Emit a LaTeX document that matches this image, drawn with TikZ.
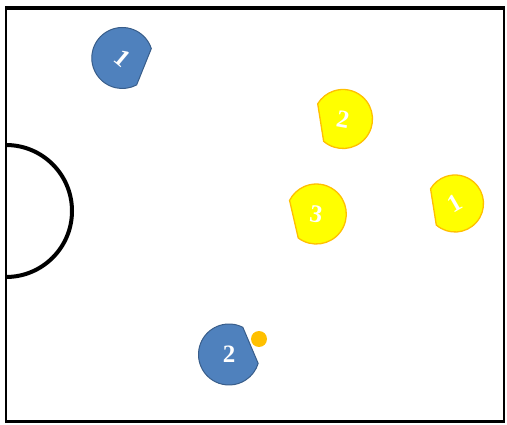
\documentclass[tikz,border=0pt]{standalone}
\usepackage{fontspec}
\setmainfont{Liberation Serif}
\definecolor{robotblue}{HTML}{4F81BD}
\definecolor{robotblueline}{HTML}{385D8A}
\definecolor{robotyellow}{HTML}{FFFF00}
\definecolor{robotyellowline}{HTML}{FFC000}
\definecolor{ballcolor}{HTML}{FFC000}
\tikzset{
  blueteam/.style={fill=robotblue, draw=robotblueline, line width=1pt},
  yellowteam/.style={fill=robotyellow, draw=robotyellowline, line width=1.3pt},
  robotlabel/.style={text=white, font=\fontsize{25}{25}\selectfont\bfseries, inner sep=0pt},
  fieldline/.style={draw=black},
}
\newcommand\drawrobot[8]{%
  \path[#5] (#2,#3) ++(#4+40:#8) arc[start angle=#4+40, end angle=#4+320, radius=#8] -- cycle;
  \node[robotlabel, rotate=#7] (#1) at (#2,#3) {#6};
}
\begin{document}
\begin{tikzpicture}[x=1pt,y=1pt]
  \useasboundingbox (0,0) rectangle (507,424);
  \fill[white] (0,0) rectangle (507,424);
  % field border
  \coordinate (tl) at (6,416);
  \coordinate (tr) at (504,416);
  \coordinate (bl) at (6,2.5);
  \coordinate (br) at (504,2.5);
  \draw[fieldline, line width=4.5pt] ([xshift=-1pt]tl) -- ([xshift=1pt]tr);
  \draw[fieldline, line width=3.5pt] ([xshift=-1pt]bl) -- ([xshift=1pt]br);
  \draw[fieldline, line width=2pt] (tl) -- (bl);
  \draw[fieldline, line width=2pt] (tr) -- (br);
  % goal area semicircle
  \coordinate (goal) at (6,213);
  \draw[fieldline, line width=4pt] (6,279) arc[start angle=90, end angle=-90, radius=66];
  % robots
  \drawrobot{b1}{122.3}{366}{-22}{blueteam}{1}{-40}{30.5}
  \drawrobot{b2}{229}{69.5}{23}{blueteam}{2}{0}{30.5}
  \drawrobot{y2}{343}{305}{189}{yellowteam}{2}{-10}{29.5}
  \drawrobot{y3}{316.3}{210}{193}{yellowteam}{3}{-8}{30}
  \drawrobot{y1}{455}{220.5}{189}{yellowteam}{1}{30}{28.5}
  % ball
  \node[circle, fill=ballcolor, minimum size=16pt, inner sep=0pt] (ball) at (259,85) {};
\end{tikzpicture}
\end{document}
